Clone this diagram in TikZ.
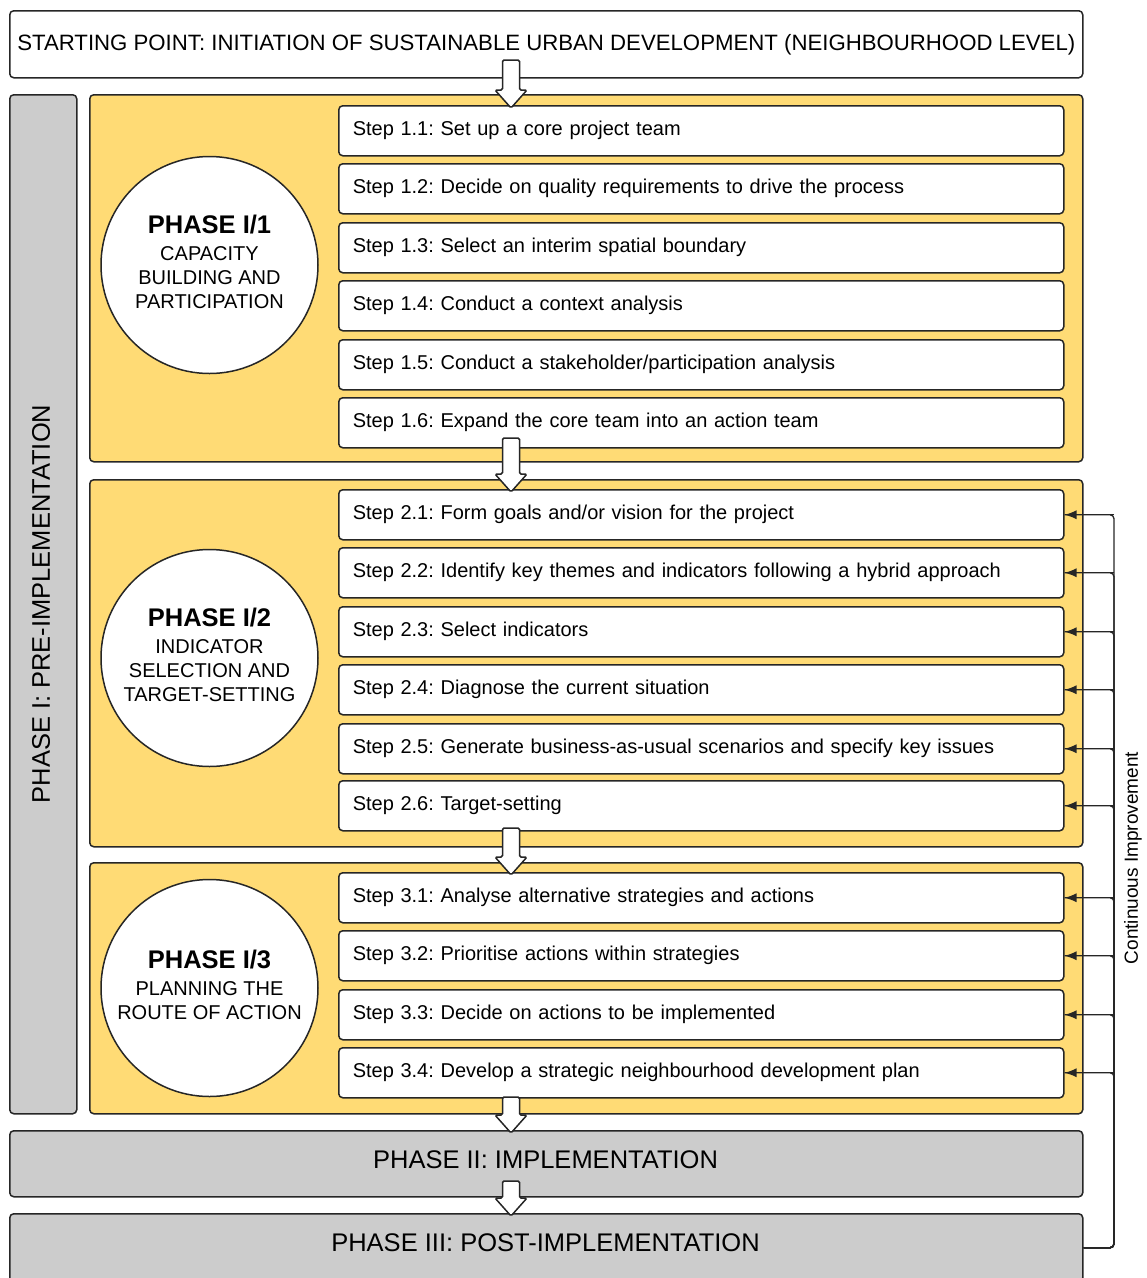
\documentclass[tikz,border=0pt]{standalone}
\usepackage{fontspec}
\setmainfont{Liberation Sans}
\usetikzlibrary{arrows.meta,calc}
\definecolor{phaseyellow}{HTML}{FFDB75}
\definecolor{phasegray}{HTML}{CCCCCC}
\definecolor{edgeline}{HTML}{262626}
\frenchspacing

% hollow block arrow: #1 = start point of the shaft, #2 = point whose height is the tip
\newcommand{\hollowarrow}[2]{%
  \draw[hollow] let \p1=(#1), \p2=(#2) in
    (\x1-8.5pt,\y1) -- (\x1-8.5pt,\y2+15pt) -- (\x1-16pt,\y2+15pt) -- (\x1,\y2-3pt)
    -- (\x1+16pt,\y2+15pt) -- (\x1+8.5pt,\y2+15pt) -- (\x1+8.5pt,\y1) -- cycle;}

\begin{document}
\begin{tikzpicture}[x=1pt,y=-1pt,
  box/.style={draw=edgeline, line width=1.5pt, rounded corners=4pt, anchor=north west, inner sep=0pt},
  stepbox/.style={box, fill=white, minimum width=725pt, minimum height=50pt,
    text width=697pt, align=left, inner xsep=14pt,
    font=\fontsize{20}{24}\selectfont},
  phasebox/.style={box, fill=phaseyellow, minimum width=993pt},
  graybox/.style={box, fill=phasegray, minimum width=1073pt,
    font=\fontsize{25.5}{30}\selectfont},
  phasecircle/.style={circle, draw=edgeline, line width=1.5pt, fill=white,
    minimum size=217pt, inner sep=0pt},
  circletext/.style={align=center, font=\fontsize{20}{24}\selectfont, inner sep=0pt},
  hollow/.style={draw=edgeline, line width=1.5pt, fill=white, rounded corners=1.5pt},
  fbline/.style={draw=edgeline, line width=1.3pt, rounded corners=4pt},
  fbtip/.style={draw=edgeline, line width=1.3pt, -{Latex[length=12pt,width=9pt]}},
]
\useasboundingbox (0,0) rectangle (1147,1278);

% side bar for the whole first phase
\node[box, fill=phasegray, minimum width=67pt, minimum height=1019pt] (pre) at (9,94) {};
\node[rotate=90, font=\fontsize{25.5}{30}\selectfont] (pretext) at (41,604) {PHASE I: PRE-IMPLEMENTATION};

% the three sub-phase panels
\node[phasebox, minimum height=367pt] (ph1) at (89,94) {};
\node[phasebox, minimum height=367pt] (ph2) at (89,479) {};
\node[phasebox, minimum height=251pt] (ph3) at (89,862) {};

% steps of phase I/1
\node[stepbox] (s11) at (338,105) {Step 1.1: Set up a core project team};
\node[stepbox] (s12) at (338,163) {Step 1.2: Decide on quality requirements to drive the process};
\node[stepbox] (s13) at (338,222) {Step 1.3: Select an interim spatial boundary};
\node[stepbox] (s14) at (338,280) {Step 1.4: Conduct a context analysis};
\node[stepbox] (s15) at (338,339) {Step 1.5: Conduct a stakeholder/participation analysis};
\node[stepbox] (s16) at (338,397) {Step 1.6: Expand the core team into an action team};

% steps of phase I/2
\node[stepbox] (s21) at (338,489) {Step 2.1: Form goals and/or vision for the project};
\node[stepbox] (s22) at (338,547) {Step 2.2: Identify key themes and indicators following a hybrid approach};
\node[stepbox] (s23) at (338,606) {Step 2.3: Select indicators};
\node[stepbox] (s24) at (338,664) {Step 2.4: Diagnose the current situation};
\node[stepbox] (s25) at (338,723) {Step 2.5: Generate business-as-usual scenarios and specify key issues};
\node[stepbox] (s26) at (338,780) {Step 2.6: Target-setting};

% steps of phase I/3
\node[stepbox] (s31) at (338,872) {Step 3.1: Analyse alternative strategies and actions};
\node[stepbox] (s32) at (338,930) {Step 3.2: Prioritise actions within strategies};
\node[stepbox] (s33) at (338,989) {Step 3.3: Decide on actions to be implemented};
\node[stepbox] (s34) at (338,1047) {Step 3.4: Develop a strategic neighbourhood development plan};

% phase circles
\node[phasecircle] (c1) at (209.5,265) {};
\node[circletext] (c1t) at (209.5,262) {{\fontsize{25.5}{29}\selectfont\bfseries PHASE I/1}\\[3pt]CAPACITY\\BUILDING AND\\PARTICIPATION};
\node[phasecircle] (c2) at (209.5,658) {};
\node[circletext] (c2t) at (209.5,655) {{\fontsize{25.5}{29}\selectfont\bfseries PHASE I/2}\\[3pt]INDICATOR\\SELECTION AND\\TARGET-SETTING};
\node[phasecircle] (c3) at (209.5,988) {};
\node[circletext] (c3t) at (209.5,985) {{\fontsize{25.5}{29}\selectfont\bfseries PHASE I/3}\\[3pt]PLANNING THE\\ROUTE OF ACTION};

% start box and later phases
\node[box, fill=white, minimum width=1073pt, minimum height=67pt,
  font=\fontsize{22.2}{26}\selectfont] (start) at (9,10)
  {STARTING POINT: INITIATION OF SUSTAINABLE URBAN DEVELOPMENT (NEIGHBOURHOOD LEVEL)};
\node[graybox, minimum height=66pt] (p2) at (9,1130) {};
\node[font=\fontsize{25.5}{30}\selectfont] (p2t) at (545.5,1160) {PHASE II: IMPLEMENTATION};
\node[graybox, minimum height=68pt] (p3) at (9,1213) {};
\node[font=\fontsize{25.5}{30}\selectfont] (p3t) at (545.5,1243) {PHASE III: POST-IMPLEMENTATION};

% continuous improvement loop
\coordinate (loopx) at (1114,0);
\foreach \s in {s21,s22,s23,s24,s25,s26,s31,s32,s33,s34}{
  \draw[fbline] (p3.east) -| (loopx |- \s.east) -- (\s.east);
  \draw[fbtip] (loopx |- \s.east) -- (\s.east);
}
\node[rotate=90, font=\fontsize{19}{23}\selectfont] (ci) at (1133,858) {Continuous Improvement};

% flow arrows between stages
\hollowarrow{511,60}{s11.north}
\hollowarrow{511,438}{s21.north}
\hollowarrow{511,828}{s31.north}
\hollowarrow{511,1097}{p2.north}
\hollowarrow{511,1181}{p3.north}
\end{tikzpicture}
\end{document}
